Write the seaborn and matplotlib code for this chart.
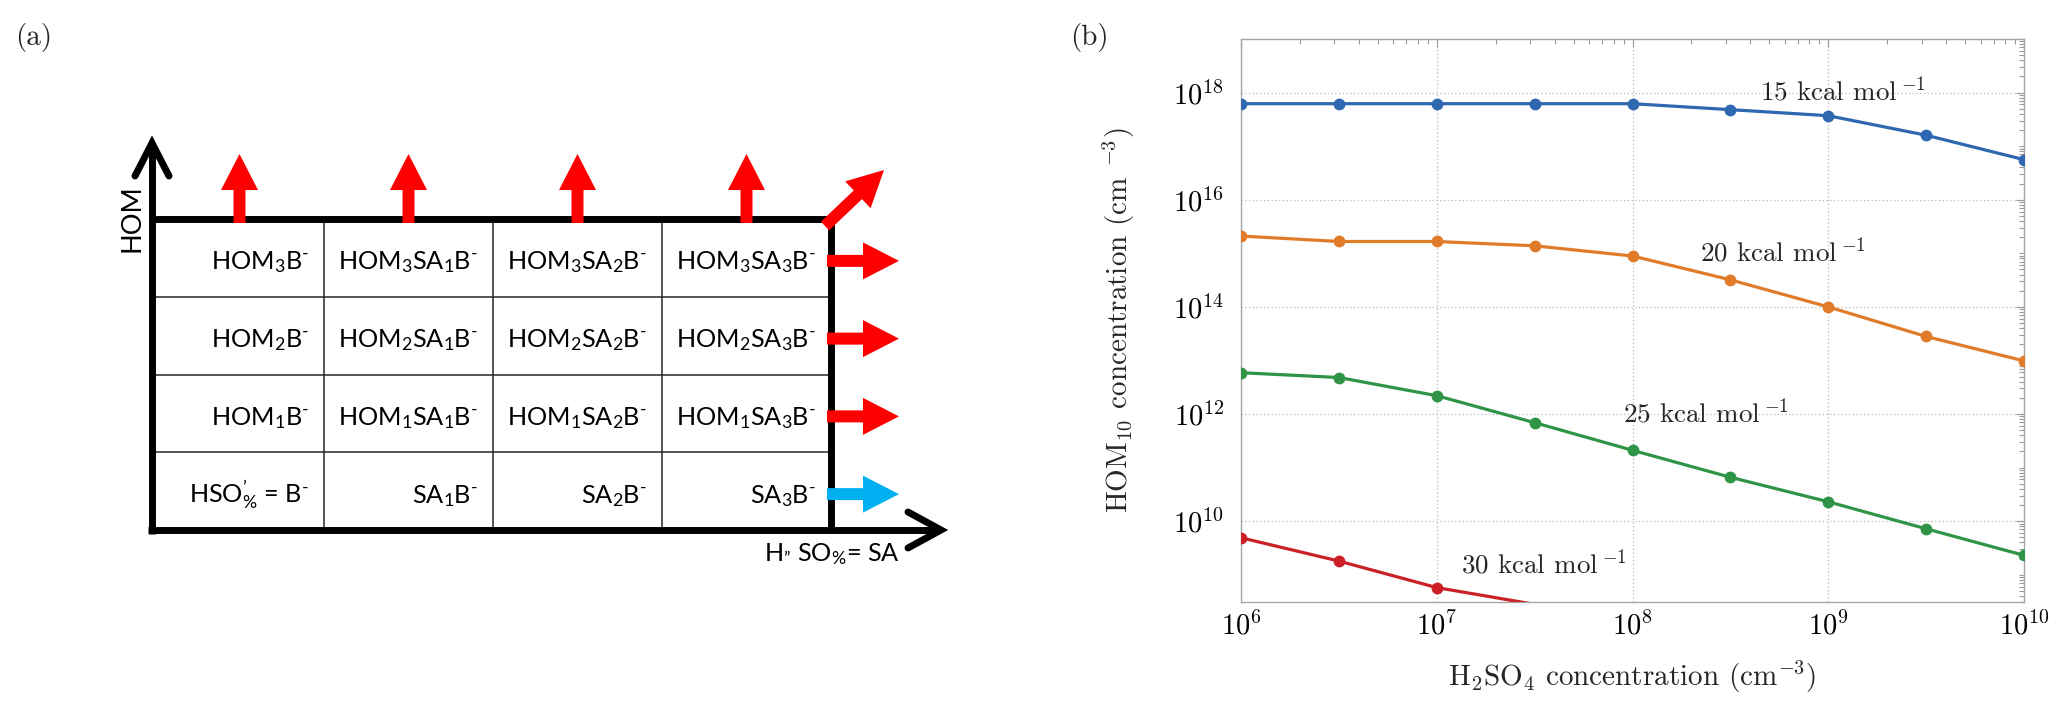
import numpy as np
import pandas as pd
import matplotlib
matplotlib.use("Agg")
import matplotlib.pyplot as plt
import seaborn as sns
from matplotlib.patches import FancyArrow
from matplotlib.ticker import FixedLocator, LogLocator, LogFormatterSciNotation, NullFormatter

# ---------------- data: panel (b) ----------------
h2so4 = [1e6, 3.16e6, 1e7, 3.16e7, 1e8, 3.16e8, 1e9, 3.16e9, 1e10]
hom_15 = [6.2e17, 6.2e17, 6.2e17, 6.2e17, 6.2e17, 4.8e17, 3.7e17, 1.6e17, 5.6e16]
hom_20 = [2.1e15, 1.66e15, 1.66e15, 1.38e15, 8.9e14, 3.2e14, 1.0e14, 2.8e13, 9.8e12]
hom_25 = [5.9e12, 4.8e12, 2.2e12, 6.9e11, 2.1e11, 6.6e10, 2.3e10, 7.2e9, 2.3e9]
hom_30 = [4.9e9, 1.8e9, 5.75e8, 2.8e8]
energies = ["15", "20", "25", "30"]

# ---------------- data: panel (a) ----------------
cell_labels = [
    [r"HOM$_3$B$^{‐}$", r"HOM$_3$SA$_1$B$^{‐}$", r"HOM$_3$SA$_2$B$^{‐}$", r"HOM$_3$SA$_3$B$^{‐}$"],
    [r"HOM$_2$B$^{‐}$", r"HOM$_2$SA$_1$B$^{‐}$", r"HOM$_2$SA$_2$B$^{‐}$", r"HOM$_2$SA$_3$B$^{‐}$"],
    [r"HOM$_1$B$^{‐}$", r"HOM$_1$SA$_1$B$^{‐}$", r"HOM$_1$SA$_2$B$^{‐}$", r"HOM$_1$SA$_3$B$^{‐}$"],
    [r"HSO$_{\%}^{’}$ = B$^{‐}$", r"SA$_1$B$^{‐}$", r"SA$_2$B$^{‐}$", r"SA$_3$B$^{‐}$"],
]
row_arrow_colors = ["#ff0000", "#ff0000", "#ff0000", "#00b0f0"]
hom_axis_label = "HOM"
sa_axis_label = r"H$_{”}$ SO$_{\%}$= SA"

# ---------------- style ----------------
sns.set_style("white")
plt.rcParams.update({
    "font.family": "cmr10",
    "mathtext.fontset": "cm",
    "axes.formatter.use_mathtext": True,
    "mathtext.rm": "Lato",
    "mathtext.it": "Lato:italic",
    "mathtext.bf": "Lato:bold",
    "mathtext.sf": "Lato",
    "mathtext.cal": "Lato",
})

W, H = 2067, 711
fig = plt.figure(figsize=(W / 100, H / 100), dpi=100)
fig.patch.set_facecolor("white")

# ================= panel (a): schematic =================
PW = 1000
axL = fig.add_axes([0, 0, PW / W, 1])
axL.set_xlim(0, PW)
axL.set_ylim(H, 0)
axL.axis("off")

GX0, GY0, CW, CH = 155, 219, 169, 77.75
ncol, nrow = 4, 4
GX1, GY1 = GX0 + ncol * CW, GY0 + nrow * CH
thick = 5.0
thin = 1.1
dark = "#262626"

for i in range(1, nrow):
    axL.plot([GX0, GX1], [GY0 + i * CH] * 2, color=dark, lw=thin, zorder=1)
for j in range(1, ncol):
    axL.plot([GX0 + j * CW] * 2, [GY0, GY1], color=dark, lw=thin, zorder=1)

# thick box (top + right)
axL.plot([GX0 - 3, GX1, GX1], [GY0, GY0, GY1], color="black", lw=thick,
         solid_joinstyle="miter", solid_capstyle="butt", zorder=2)
# HOM axis
axL.plot([GX0 - 3, GX0 - 3], [GY1 + 4, 144], color="black", lw=thick,
         solid_capstyle="butt", zorder=2)
axL.plot([GX0 - 20, GX0 - 3, GX0 + 14], [176, 143, 176], color="black", lw=thick,
         solid_capstyle="round", solid_joinstyle="miter", zorder=2)
# SA axis
axL.plot([GX0 - 7, 940], [GY1, GY1], color="black", lw=thick,
         solid_capstyle="butt", zorder=2)
axL.plot([908, 941, 908], [GY1 - 18, GY1, GY1 + 18], color="black", lw=thick,
         solid_capstyle="round", solid_joinstyle="miter", zorder=2)

arrow_kw = dict(width=12, head_width=37, head_length=36, length_includes_head=True,
                lw=0, zorder=3)
# upward arrows from top row
for j in range(ncol):
    cx = GX0 + (j + 0.5) * CW
    axL.add_patch(FancyArrow(cx, GY0 + 4, 0, -69, color="#ff0000", **arrow_kw))
# rightward arrows from last column
for i in range(nrow):
    cy = GY0 + (i + 0.5) * CH + 3
    axL.add_patch(FancyArrow(GX1 - 4, cy, 72, 0, color=row_arrow_colors[i], **arrow_kw))
# diagonal arrow at corner
axL.add_patch(FancyArrow(GX1 - 6, GY0 + 7, 59, -56, color="#ff0000", **arrow_kw))

# cell labels
for i in range(nrow):
    for j in range(ncol):
        axL.text(GX0 + (j + 1) * CW - 15, GY0 + i * CH + 0.65 * CH, cell_labels[i][j],
                 ha="right", va="baseline", fontsize=18.2, family="Lato",
                 math_fontfamily="custom", color="black", zorder=4)

axL.text(132, 218, hom_axis_label, rotation=90, ha="center", va="center",
         fontsize=19.5, family="Lato", color="black")
axL.text(900, 561, sa_axis_label, ha="right", va="baseline", fontsize=18.2,
         family="Lato", math_fontfamily="custom", color="black")

fig.text(15 / W, 1 - 37 / H, "(a)", ha="left", va="center", fontsize=21)
fig.text(1070 / W, 1 - 37 / H, "(b)", ha="left", va="center", fontsize=21)

# ================= panel (b): line chart =================
X0, X1, YT, YB = 1241, 2024, 39, 601.5
axR = fig.add_axes([X0 / W, 1 - YB / H, (X1 - X0) / W, (YB - YT) / H])
axR.set_xscale("log")
axR.set_yscale("log")
YMIN, YMAX = 10 ** 8.5, 1e19
axR.set_xlim(1e6, 1e10)
axR.set_ylim(YMIN, YMAX)

series = [hom_15, hom_20, hom_25, hom_30]
colors = ["#2f67b1", "#e07b2a", "#2f9446", "#cc2027"]
for yvals, c in zip(series, colors):
    xs = h2so4[:len(yvals)]
    visible = [bool(v >= YMIN) for v in yvals]
    sns.lineplot(x=xs, y=yvals, ax=axR, color=c, lw=2.3, marker="o", markersize=8.5,
                 markeredgewidth=0, markevery=visible, estimator=None, sort=False,
                 zorder=3)

label_pos = [(4.47e8, 7.1e17), (2.2e8, 7.2e14), (8.9e7, 7.0e11), (1.33e7, 1.05e9)]
for e, (lx, ly) in zip(energies, label_pos):
    axR.text(lx, ly, e + r" kcal mol$\,^{-1}$", ha="left", va="baseline",
             fontsize=19.5, zorder=4)

axR.yaxis.set_major_locator(FixedLocator([1e10, 1e12, 1e14, 1e16, 1e18]))
axR.yaxis.set_major_formatter(LogFormatterSciNotation())
axR.yaxis.set_minor_locator(LogLocator(base=10, subs=np.arange(1, 10), numticks=100))
axR.yaxis.set_minor_formatter(NullFormatter())
axR.xaxis.set_major_locator(LogLocator(base=10, numticks=20))
axR.xaxis.set_major_formatter(LogFormatterSciNotation())
axR.xaxis.set_minor_locator(LogLocator(base=10, subs=np.arange(2, 10), numticks=100))
axR.xaxis.set_minor_formatter(NullFormatter())

axR.grid(True, which="major", ls=(0, (1, 2)), color="#b8b8b8", lw=0.9, zorder=0)
axR.grid(False, which="minor")
axR.tick_params(which="both", direction="in", top=True, right=True, color="#9a9a9a",
                width=0.8, labelsize=20.5, labelcolor="black")
axR.tick_params(which="major", length=6)
axR.tick_params(which="minor", length=3.5)
axR.tick_params(axis="x", pad=7)
axR.tick_params(axis="y", pad=12)
for sp in axR.spines.values():
    sp.set_color("#a6a6a6")
    sp.set_linewidth(1.0)

axR.set_xlabel(r"H$_2$SO$_4$ concentration (cm$^{-3}$)", fontsize=21, va="center")
axR.xaxis.set_label_coords(0.5, -(677 - YB) / (YB - YT))
axR.set_ylabel(r"HOM$_{10}$ concentration (cm $^{-3}$)", fontsize=21, va="center")
axR.yaxis.set_label_coords(-(X0 - 1119) / (X1 - X0), 0.5)

fig.savefig("out.png", dpi=100, facecolor="white")
